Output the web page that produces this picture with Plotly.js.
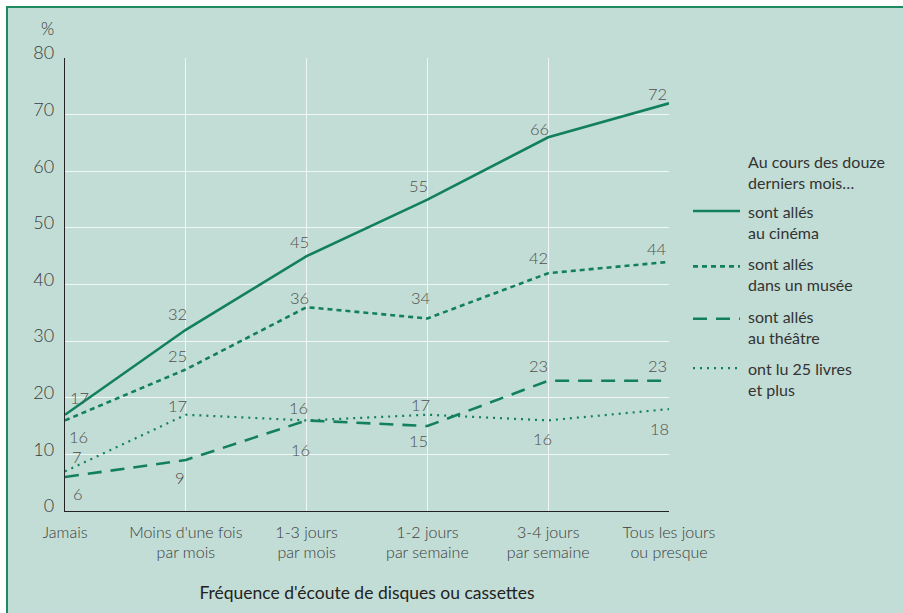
<!DOCTYPE html>
<html>
<head>
<meta charset="utf-8">
<script src="https://cdn.plot.ly/plotly-3.0.1.min.js"></script>
<style>
  html, body { margin: 0; padding: 0; background: #ffffff; }
  #wrap { position: absolute; left: 6px; top: 6px; width: 897px; height: 607px;
          overflow: hidden; border-left: 2px solid #1d8a60; border-top: 2px solid #1d8a60; box-sizing: border-box; }
  #chart { position: absolute; left: -8px; top: -8px; width: 903px; height: 613px; }
</style>
</head>
<body>
<div id="wrap"><div id="chart"></div></div>
<script>
// ---- data ----
const categories = ["Jamais", "Moins d'une fois<br>par mois", "1-3 jours<br>par mois",
                    "1-2 jours<br>par semaine", "3-4 jours<br>par semaine", "Tous les jours<br>ou presque"];
const cinema  = [17, 32, 45, 55, 66, 72];
const musee   = [16, 25, 36, 34, 42, 44];
const theatre = [6, 9, 16, 15, 23, 23];
const livres  = [7, 17, 16, 17, 16, 18];
const seriesNames = ["sont allés<br>au cinéma", "sont allés<br>dans un musée",
                     "sont allés<br>au théâtre", "ont lu 25 livres<br>et plus"];
const legendTitle = "Au cours des douze<br>derniers mois…";
const yTicks = [0, 10, 20, 30, 40, 50, 60, 70, 80];
const xTitle = "Fréquence d'écoute de disques ou cassettes";
const yUnit = "%";

// ---- label offsets (pixels) ----
const offCinema  = [[14,-17],[-8,-16],[-7,-14],[-9,-14],[-9,-8],[-12,-9]];
const offMusee   = [[13,17],[-8,-13],[-7,-9],[-6,-20],[-10,-15],[-12,-13]];
const offTheatre = [[13,17],[-6,18],[-6,30],[-9,15],[-10,-15],[-12,-15]];
const offLivres  = [[12,-14],[-8,-9],[-8,-12],[-7,-10],[-6,19],[-10,20]];

// ---- styles ----
const GREEN = "#13805c";
const FONT = "Lato, 'Open Sans', sans-serif";
const styles = [
  {dash: "solid", width: 2.6},
  {dash: "5px,4px", width: 2.6},
  {dash: "14px,9px", width: 2.6},
  {dash: "2px,5px", width: 2.2}
];
const allSeries = [cinema, musee, theatre, livres];
const allOffsets = [offCinema, offMusee, offTheatre, offLivres];

const M = {l: 65, r: 234, t: 58, b: 102};
const W = 903, H = 613;
const PW = W - M.l - M.r, PH = H - M.t - M.b;
const px2x = p => (p - M.l) / PW;
const py2y = p => (H - M.b - p) / PH;

const xIdx = categories.map((c, i) => i);

const traces = allSeries.map((vals, s) => ({
  type: "scatter", mode: "lines", x: xIdx, y: vals, name: seriesNames[s],
  line: {color: GREEN, width: styles[s].width, dash: styles[s].dash},
  cliponaxis: false, showlegend: false, hoverinfo: "skip"
}));

const annotations = [];
allSeries.forEach((vals, s) => {
  vals.forEach((v, i) => {
    annotations.push({
      x: i, y: v, xref: "x", yref: "y", text: String(v), showarrow: false,
      xshift: allOffsets[s][i][0], yshift: -allOffsets[s][i][1],
      font: {family: FONT, size: 16.5, color: "#4f4f4f", weight: 300}
    });
  });
});

// unit label
annotations.push({xref: "paper", yref: "paper", x: px2x(47), y: py2y(28), xanchor: "center", yanchor: "middle",
  text: yUnit, showarrow: false, font: {family: FONT, size: 17, color: "#333", weight: 300}});

// legend (drawn manually)
const shapes = [];
annotations.push({xref: "paper", yref: "paper", x: px2x(746), y: py2y(150), xanchor: "left", yanchor: "top",
  align: "left", text: legendTitle, showarrow: false, font: {family: FONT, size: 16, color: "#333"}});
seriesNames.forEach((nm, s) => {
  const yFirst = 211 + s * 52.4;
  annotations.push({xref: "paper", yref: "paper", x: px2x(746), y: py2y(yFirst - 11), xanchor: "left", yanchor: "top",
    align: "left", text: nm, showarrow: false, font: {family: FONT, size: 16, color: "#333"}});
  shapes.push({type: "line", xref: "paper", yref: "paper", x0: px2x(693), x1: px2x(740),
    y0: py2y(yFirst + (s === 1 || s === 2 ? 3 : 0)), y1: py2y(yFirst + (s === 1 || s === 2 ? 3 : 0)),
    line: {color: GREEN, width: styles[s].width, dash: styles[s].dash}});
});

const layout = {
  width: W, height: H, margin: M,
  paper_bgcolor: "#c2ddd5", plot_bgcolor: "#c2ddd5",
  font: {family: FONT, color: "#444"},
  showlegend: false,
  xaxis: {
    range: [0, 5], tickvals: xIdx, ticktext: categories, showgrid: true,
    gridcolor: "rgba(248,250,249,0.85)", gridwidth: 1.2,
    showline: true, linecolor: "#222", linewidth: 1.3, zeroline: false,
    ticks: "", ticklabelstandoff: 6,
    tickfont: {family: FONT, size: 16, color: "#3c3c3c", weight: 300},
    title: {text: xTitle, standoff: 26, font: {family: FONT, size: 17.5, color: "#222"}},
    fixedrange: true
  },
  yaxis: {
    range: [0, 80], tickvals: yTicks, showgrid: true,
    gridcolor: "rgba(248,250,249,0.85)", gridwidth: 1.2,
    showline: true, linecolor: "#222", linewidth: 1.3, zeroline: false,
    ticks: "", ticklabelstandoff: 6, ticklabelshift: -5,
    tickfont: {family: FONT, size: 18, color: "#3c3c3c", weight: 300},
    fixedrange: true
  },
  annotations: annotations,
  shapes: shapes
};

Plotly.newPlot("chart", traces, layout, {displayModeBar: false, staticPlot: true});
</script>
</body>
</html>
